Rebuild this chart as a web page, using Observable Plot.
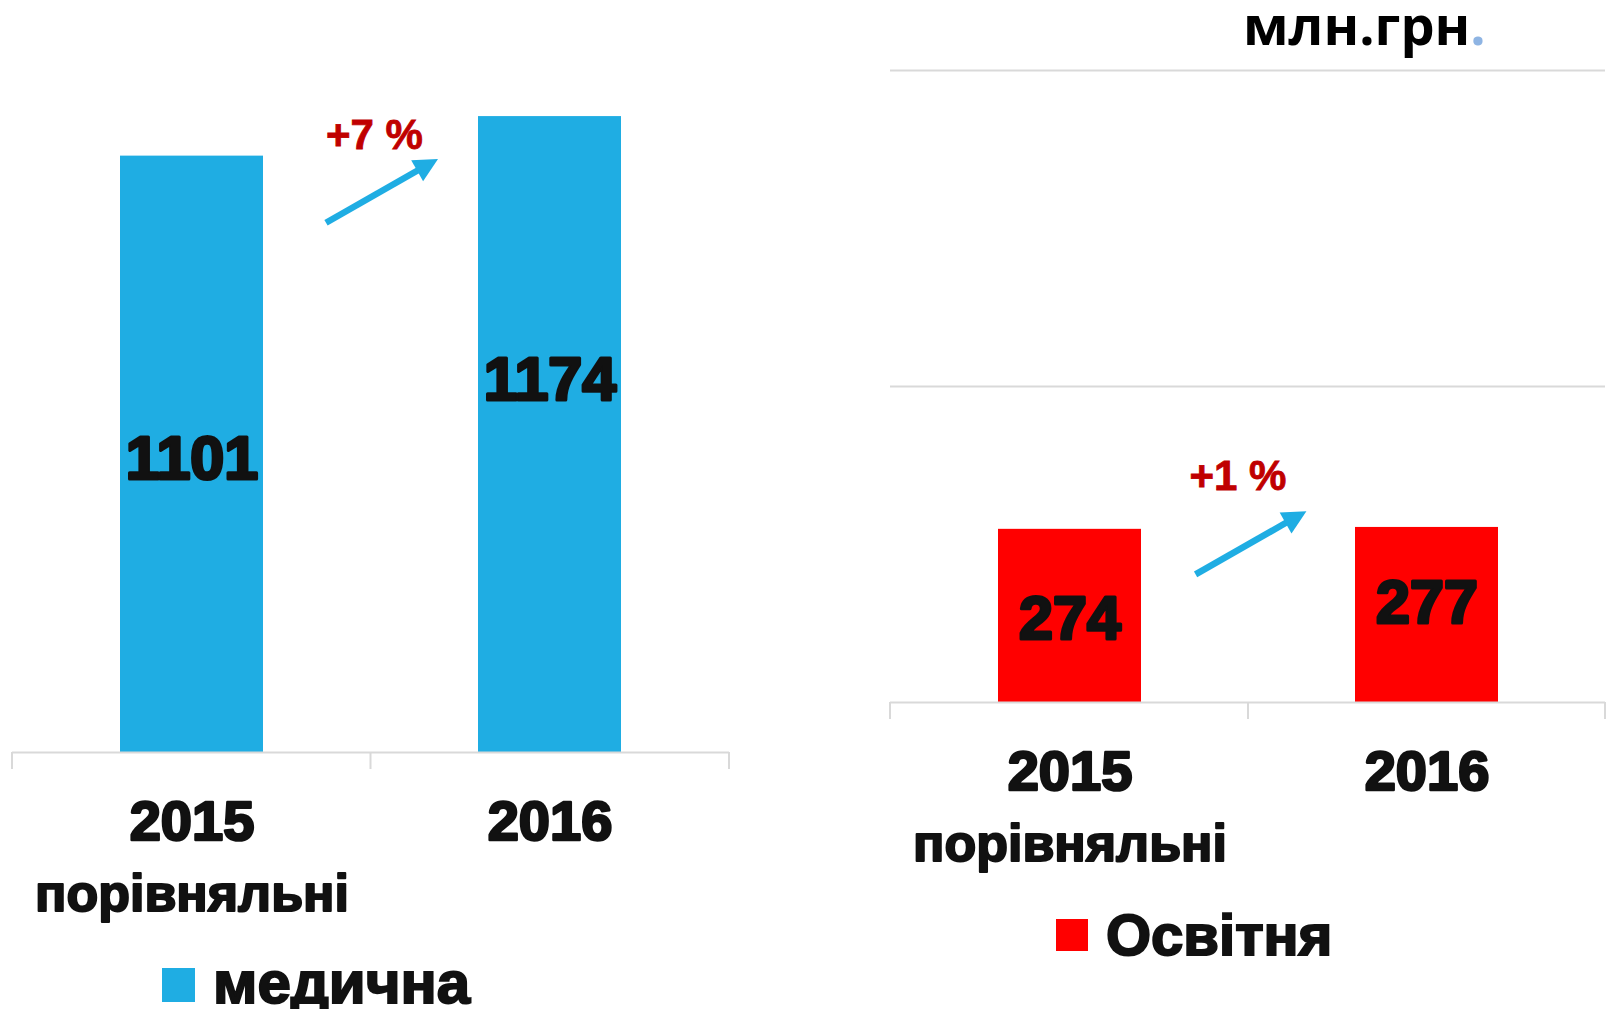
<!DOCTYPE html>
<html>
<head>
<meta charset="utf-8">
<script src="https://cdn.jsdelivr.net/npm/d3@7"></script>
<script src="https://cdn.jsdelivr.net/npm/@observablehq/plot@0.6"></script>
<style>
html, body { margin: 0; padding: 0; background: #fff; }
#root { position: relative; width: 1612px; height: 1009px; overflow: hidden; font-family: "Liberation Sans", Arial, sans-serif; }
.chart { position: absolute; top: 0; }
.legend { position: absolute; display: flex; align-items: center; font-weight: 700; color: #111; -webkit-text-stroke: 2px #111; white-space: nowrap; }
.legend .sw { display: inline-block; -webkit-text-stroke: 0; }
.legend .tx { position: relative; }
#unit { position: absolute; font-family: "Open Sans", sans-serif; font-weight: 700; color: #000; white-space: nowrap; }
</style>
</head>
<body>
<div id="root"></div>
<script>
// ---- data ----
const categories = ["2015", "2016"];
const categorySubLabels = ["порівняльні", ""];
const medicalValues = [1101, 1174];
const educationValues = [274, 277];
const educationGridTicks = [500, 1000];
const growthLabels = ["+7 %", "+1 %"];
const seriesNames = ["медична", "Освітня"];
const seriesColors = ["#1FADE3", "#FF0000"];
const unitLabel = "млн.грн";
const unitDot = ".";

// ---- styling ----
const ink = "#111";
const font = "'Liberation Sans', Arial, sans-serif";
const axisGray = "#D9D9D9";
const arrowBlue = "#1FADE3";
const growthRed = "#C00000";

function boundaryTicks(index, scales, values, dim) {
  const x = scales.x, y0 = scales.y(0);
  const bw = x.bandwidth();
  const xs = [dim.marginLeft, (x(categories[0]) + bw + x(categories[1])) / 2, dim.width - dim.marginRight];
  const g = d3.create("svg:g");
  g.selectAll("line").data(xs).join("line")
    .attr("x1", d => d).attr("x2", d => d)
    .attr("y1", y0).attr("y2", y0 + 17)
    .attr("stroke", axisGray).attr("stroke-width", 2);
  return g.node();
}

function growthMark(g) {
  return (index, scales, values, dim) => {
    const x = scales.x, y = scales.y;
    const bw = x.bandwidth();
    const gs = x(categories[0]) + bw, ge = x(categories[1]);
    const gap = ge - gs;
    const x1 = gs + gap * g.from, x2 = gs + gap * g.to;
    const y1 = y(g.y1), y2 = y(g.y2);
    const dx = x2 - x1, dy = y2 - y1, len = Math.hypot(dx, dy);
    const ux = dx / len, uy = dy / len, px = -uy, py = ux;
    const headL = 24, headW = 12;
    const bx = x2 - ux * headL, by = y2 - uy * headL;
    const node = d3.create("svg:g");
    node.append("line")
      .attr("x1", x1).attr("y1", y1)
      .attr("x2", bx + ux * 2).attr("y2", by + uy * 2)
      .attr("stroke", arrowBlue).attr("stroke-width", 6.5);
    node.append("polygon")
      .attr("points", [[x2, y2], [bx + px * headW, by + py * headW], [bx - px * headW, by - py * headW]].map(p => p.join(",")).join(" "))
      .attr("fill", arrowBlue);
    node.append("text")
      .attr("x", (gs + ge) / 2 + g.textDx).attr("y", y(g.textV))
      .attr("dy", "0.35em").attr("text-anchor", "middle")
      .attr("font-family", font).attr("font-weight", 700).attr("font-size", 42)
      .attr("fill", growthRed).attr("stroke", growthRed).attr("stroke-width", 0.8)
      .text(g.text);
    return node.node();
  };
}

function panel(cfg) {
  const rows = categories.map((c, i) => ({category: c, value: cfg.values[i], sub: categorySubLabels[i]}));
  const marks = [];
  if (cfg.grid) marks.push(Plot.ruleY(cfg.grid, {stroke: axisGray, strokeWidth: 2}));
  marks.push(Plot.barY(rows, {x: "category", y: "value", fill: cfg.color}));
  marks.push(Plot.ruleY([0], {stroke: axisGray, strokeWidth: 2}));
  marks.push(boundaryTicks);
  rows.forEach((r, i) => {
    marks.push(Plot.text([r], {
      x: "category", y: d => d.value / 2, text: d => String(d.value),
      dy: cfg.labelDy[i], lineAnchor: "middle",
      fontSize: 61, fontWeight: 700, fontFamily: font,
      fill: ink, stroke: ink, strokeWidth: 3.2
    }));
  });
  marks.push(Plot.text(rows, {
    x: "category", frameAnchor: "bottom", text: "category",
    dy: 48, lineAnchor: "top",
    fontSize: 56, fontWeight: 700, fontFamily: font,
    fill: ink, stroke: ink, strokeWidth: 2.6
  }));
  marks.push(Plot.text(rows.filter(d => d.sub), {
    x: "category", frameAnchor: "bottom", text: "sub",
    dy: 122, lineAnchor: "top",
    fontSize: 52, fontWeight: 700, fontFamily: font,
    fill: ink, stroke: ink, strokeWidth: 2
  }));
  marks.push(growthMark(cfg.growth));
  return Plot.plot({
    width: cfg.width, height: 1009,
    marginLeft: cfg.marginLeft, marginRight: cfg.marginRight,
    marginTop: cfg.marginTop, marginBottom: cfg.marginBottom,
    x: {type: "band", domain: categories, paddingInner: 0.6, paddingOuter: 0.3, axis: null},
    y: {domain: cfg.yDomain, axis: null},
    style: {background: "transparent", overflow: "visible", fontFamily: font},
    marks
  });
}

const root = document.getElementById("root");

const left = panel({
  values: medicalValues, color: seriesColors[0], yDomain: [0, 1200], grid: null,
  width: 800, marginLeft: 12, marginRight: 71, marginTop: 102, marginBottom: 257,
  labelDy: [5.5, -54],
  growth: {from: 0.293, to: 0.814, y1: 977, y2: 1095, textV: 1141, textDx: 4, text: growthLabels[0]}
});
left.classList.add("chart");
left.style.left = "0px";
root.appendChild(left);

const right = panel({
  values: educationValues, color: seriesColors[1], yDomain: [0, 1000], grid: educationGridTicks,
  width: 812, marginLeft: 90, marginRight: 7, marginTop: 70, marginBottom: 307,
  labelDy: [3.6, -11.5],
  growth: {from: 0.255, to: 0.773, y1: 202, y2: 302, textV: 359, textDx: -10, text: growthLabels[1]}
});
right.classList.add("chart");
right.style.left = "800px";
root.appendChild(right);

function legend(name, color, l, t, sw, sh, gapPx, fs, shift) {
  const d = document.createElement("div");
  d.className = "legend";
  d.style.left = l + "px"; d.style.top = t + "px"; d.style.height = sh + "px";
  const s = document.createElement("span");
  s.className = "sw";
  s.style.width = sw + "px"; s.style.height = sh + "px"; s.style.background = color; s.style.marginRight = gapPx + "px";
  const tx = document.createElement("span");
  tx.className = "tx";
  tx.style.fontSize = fs + "px"; tx.style.lineHeight = sh + "px"; tx.style.top = shift + "px";
  tx.textContent = name;
  d.appendChild(s); d.appendChild(tx);
  root.appendChild(d);
}
legend(seriesNames[0], seriesColors[0], 162, 968, 33, 34, 18, 60, -2);
legend(seriesNames[1], seriesColors[1], 1056, 919, 32, 32, 18, 58, 0);

const unit = document.createElement("div");
unit.id = "unit";
unit.style.left = "1243px"; unit.style.top = "0px";
unit.style.fontSize = "54px"; unit.style.lineHeight = "48px";
unit.innerHTML = unitLabel + '<span style="color:#8EB4E3">' + unitDot + '</span>';
root.appendChild(unit);
</script>
</body>
</html>
